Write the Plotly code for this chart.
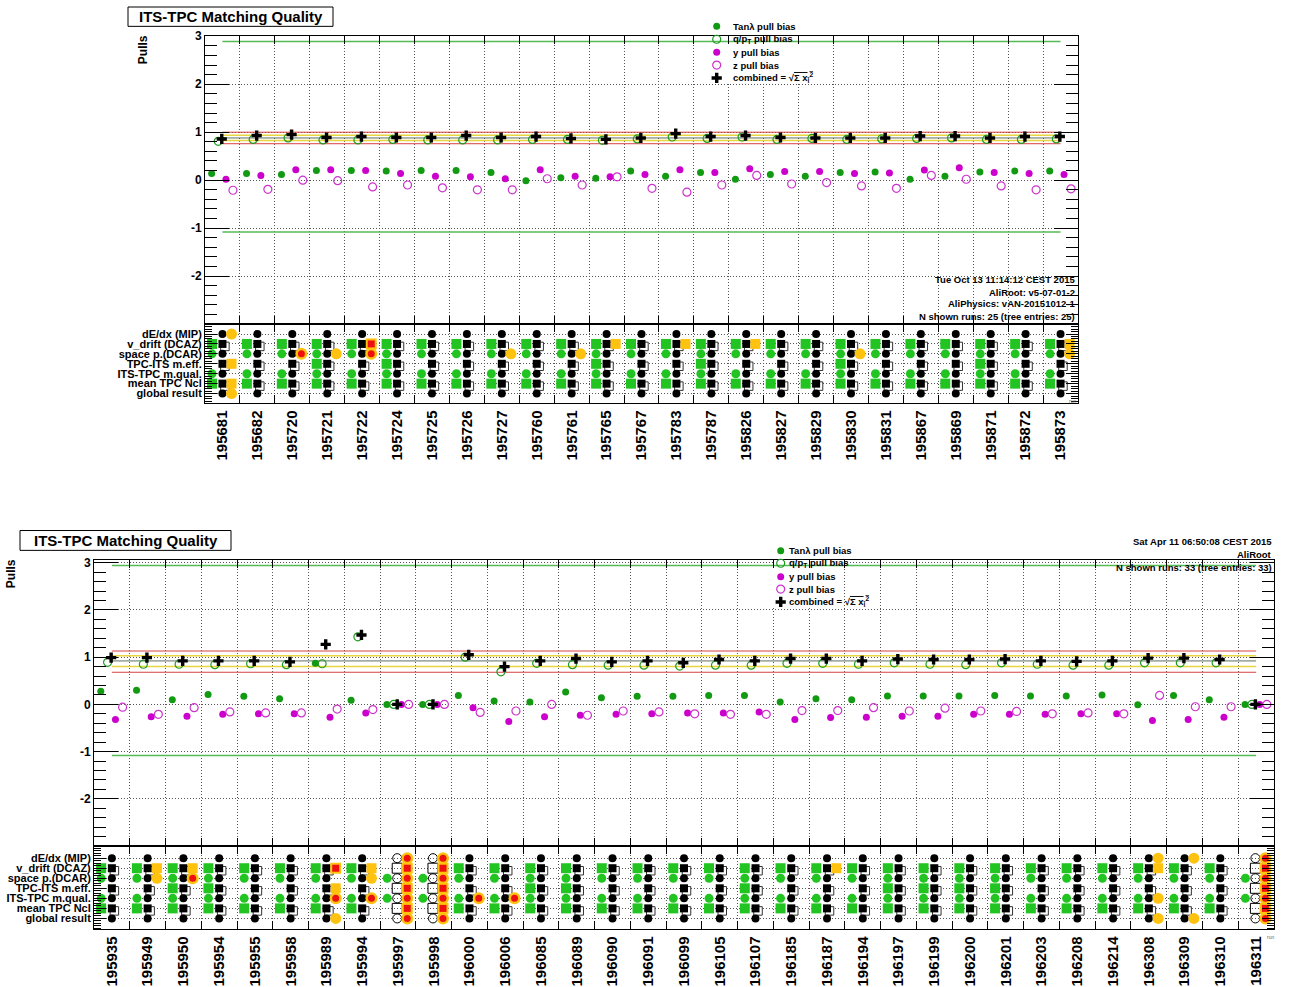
import plotly.graph_objects as go

W, H = 1290, 987
FONT = "Liberation Sans"

# ---------------- data: first period ----------------
top_runs = ["195681", "195682", "195720", "195721", "195722", "195724", "195725", "195726",
            "195727", "195760", "195761", "195765", "195767", "195783", "195787", "195826",
            "195827", "195829", "195830", "195831", "195867", "195869", "195871", "195872",
            "195873"]
top_tan = [0.14, 0.14, 0.12, 0.20, 0.20, 0.19, 0.20, 0.20, 0.16, -0.01, 0.05, 0.04, 0.19,
           0.08, 0.16, 0.02, 0.12, 0.08, 0.16, 0.17, 0.02, 0.08, 0.17, 0.19, 0.19]
top_qpt = [0.81, 0.85, 0.88, 0.84, 0.84, 0.85, 0.84, 0.84, 0.84, 0.85, 0.85, 0.83, 0.86,
           0.90, 0.87, 0.90, 0.85, 0.87, 0.85, 0.86, 0.87, 0.88, 0.85, 0.85, 0.86]
top_ypull = [0.02, 0.10, 0.22, 0.22, 0.20, 0.14, 0.08, 0.07, 0.03, 0.22, 0.08, 0.07, 0.12,
             0.22, 0.16, 0.24, 0.18, 0.18, 0.14, 0.15, 0.21, 0.26, 0.16, 0.14, 0.12]
top_zpull = [-0.21, -0.19, 0.00, -0.01, -0.14, -0.10, -0.16, -0.20, -0.20, 0.03, -0.10, 0.07,
             -0.17, -0.25, -0.10, 0.10, -0.08, -0.05, -0.12, -0.17, 0.10, 0.02, -0.12, -0.20,
             -0.18]
top_comb = [0.86, 0.93, 0.95, 0.89, 0.91, 0.89, 0.89, 0.93, 0.89, 0.91, 0.87, 0.85, 0.88,
            0.97, 0.91, 0.93, 0.89, 0.88, 0.88, 0.88, 0.92, 0.92, 0.88, 0.91, 0.91]
# status per run, rows top->bottom; '.' none, 'g' ok, 'w' warning, 'G' ok+warning,
# 'r' outlier, 'R' ok+outlier
top_status = ["wggwgGw", ".gg.gg.", ".gR.gg.", ".gGggg.", ".RR.gg.", ".ggggg.", ".gg.gg.",
              ".gg.gg.", ".gG.gg.", ".gg.gg.", ".gG.gg.", ".Ggggg.", ".gg.gg.", ".Gg.gg.",
              ".ggggg.", ".Gg.gg.", ".gg.gg.", ".gg.gg.", ".gGggg.", ".gg.gg.", ".gg.gg.",
              ".gg.gg.", ".ggggg.", ".gg.gg.", ".GG.gg."]
top_missing = []
top_limits = [2.89, -1.08]
top_comb_band = [0.76, 0.825, 0.88, 0.935, 1.00]
top_info = ["Tue Oct 13 11:14:12 CEST 2015", "AliRoot: v5-07-01-2",
            "AliPhysics: vAN-20151012-1", "N shown runs: 25 (tree entries: 25)"]

# ---------------- data: second period ----------------
bot_runs = ["195935", "195949", "195950", "195954", "195955", "195958", "195989", "195994",
            "195997", "195998", "196000", "196006", "196085", "196089", "196090", "196091",
            "196099", "196105", "196107", "196185", "196187", "196194", "196197", "196199",
            "196200", "196201", "196203", "196208", "196214", "196308", "196309", "196310",
            "196311"]
bot_tan = [0.28, 0.30, 0.10, 0.21, 0.17, 0.12, 0.87, 0.09, 0.0, 0.0, 0.19, 0.07, 0.05, 0.26,
           0.14, 0.17, 0.17, 0.19, 0.19, 0.05, 0.12, 0.10, 0.18, 0.18, 0.18, 0.19, 0.18, 0.18,
           0.20, -0.01, 0.19, 0.10, 0.0]
bot_qpt = [0.89, 0.85, 0.85, 0.84, 0.86, 0.84, 0.86, 1.43, 0.0, 0.0, 1.00, 0.69, 0.87, 0.84,
           0.83, 0.83, 0.81, 0.83, 0.83, 0.87, 0.87, 0.85, 0.88, 0.85, 0.84, 0.88, 0.85, 0.83,
           0.83, 0.88, 0.88, 0.88, 0.0]
bot_ypull = [-0.32, -0.26, -0.25, -0.21, -0.20, -0.20, -0.27, -0.18, 0.0, 0.0, -0.07, -0.36,
             -0.26, -0.23, -0.21, -0.20, -0.18, -0.18, -0.16, -0.32, -0.28, -0.27, -0.25,
             -0.25, -0.21, -0.21, -0.21, -0.20, -0.20, -0.34, -0.32, -0.27, 0.0]
bot_zpull = [-0.06, -0.21, -0.07, -0.16, -0.18, -0.18, -0.10, -0.11, 0.0, 0.0, -0.17, -0.14,
             0.00, -0.23, -0.14, -0.16, -0.20, -0.21, -0.21, -0.13, -0.13, -0.07, -0.14, -0.08,
             -0.14, -0.15, -0.20, -0.18, -0.20, 0.19, -0.05, -0.05, 0.0]
bot_comb = [0.99, 0.99, 0.92, 0.92, 0.92, 0.90, 1.27, 1.47, 0.0, 0.0, 1.05, 0.80, 0.92, 0.97,
            0.90, 0.92, 0.88, 0.95, 0.92, 0.97, 0.97, 0.92, 0.96, 0.95, 0.95, 0.96, 0.92, 0.91,
            0.92, 0.98, 0.98, 0.95, 0.0]
bot_status = [".gg.gg.", ".GG.gg.", ".GRggg.", ".ggggg.", ".gg.gg.", ".gg.gg.", ".RgwRgw",
              ".GG.Rg.", "rrRrRrr", "rrRrRrr", ".gg.Rg.", ".gg.Rg.", ".ggggg.", ".ggggg.",
              ".gg.gg.", ".gg.gg.", ".gg.gg.", ".gg.gg.", ".ggggg.", ".gg.gg.", ".Gg.gg.",
              ".gg.gg.", ".ggggg.", ".ggggg.", ".ggggg.", ".ggggg.", ".gg.gg.", ".gg.gg.",
              ".gg.gg.", "wGg.Ggw", "wgg.ggw", ".gg.gg.", "rrRrRrr"]
bot_missing = ["195997", "195998", "196311"]
bot_limits = [2.94, -1.08]
bot_comb_band = [0.68, 0.80, 0.92, 1.03, 1.13]
bot_info = ["Sat Apr 11 06:50:08 CEST 2015", "AliRoot", "N shown runs: 33 (tree entries: 33)"]

status_rows = ["dE/dx (MIP)", "v_drift (DCAZ)", "space p.(DCAR)", "TPC-ITS m.eff.",
               "ITS-TPC m.qual.", "mean TPC Ncl", "global result"]

# ---------------- styling ----------------
C_TAN = "#129a12"
C_QPT = "#1f9a1f"
C_Y = "#cc00cc"
C_Z = "#cc33cc"
C_OK = "#22c422"
C_WARN = "#ffc20e"
C_BAD = "#ee1010"
GRID = dict(showgrid=True, gridcolor="#555555", gridwidth=1, griddash="1px,2px")
LBL = dict(family=FONT, color="black", weight="bold")

# vertical page placement: pixel rows of the page are mapped through a small
# top offset and a slightly reduced usable height
Y_OFF, Y_SCALE = 7.5, 0.978

fig = go.Figure()
layout = {}
annotations = []
shapes = []


def ax_names(n):
    return ("x" if n == 1 else f"x{n}", "y" if n == 1 else f"y{n}",
            "xaxis" if n == 1 else f"xaxis{n}", "yaxis" if n == 1 else f"yaxis{n}")


def px_x(p):
    return p / W


def ypix(p):
    return (p - Y_OFF) / Y_SCALE


def px_y(p):
    return min(1.0, max(0.0, 1 - ypix(p) / H))


def add_panel(n_p, n_s, box, runs, tan, qpt, ypull, zpull, comb, status, missing,
              limits, band, yr_p, yr_s):
    x0, x1, yt, ym, yb = box
    N = len(runs)
    xs = list(range(N))
    edges = [i + 0.5 for i in range(N - 1)]
    xp, yp, xk, yk = ax_names(n_p)
    xs_, ys_, xks, yks = ax_names(n_s)

    # reference lines from first to last run
    for val in limits:
        fig.add_trace(go.Scatter(x=[0, N - 1], y=[val, val], mode="lines",
                                 line=dict(color="#55bb55", width=1.5),
                                 xaxis=xp, yaxis=yp, showlegend=False))
    band_cols = ["#d84040", "#e8d640", "#5f6f5f", "#e8d640", "#d84040"]
    band_w = [1, 1.5, 1, 1.5, 1]
    for val, c, w in zip(band, band_cols, band_w):
        fig.add_trace(go.Scatter(x=[0, N - 1], y=[val, val], mode="lines",
                                 line=dict(color=c, width=w),
                                 xaxis=xp, yaxis=yp, showlegend=False))

    series = [
        (tan, -0.31, "circle", C_TAN, 7, 0),
        (qpt, -0.12, "circle-open", C_QPT, 8, 1.2),
        (ypull, 0.10, "circle", C_Y, 7, 0),
        (zpull, 0.30, "circle-open", C_Z, 8, 1.2),
        (comb, -0.02, "cross", "black", 8.5, 0),
    ]
    for vals, off, sym, col, size, lw in series:
        fig.add_trace(go.Scatter(
            x=[i + off for i in xs], y=vals, mode="markers",
            marker=dict(symbol=sym, color=col, size=size,
                        line=dict(color=col, width=lw)),
            xaxis=xp, yaxis=yp, showlegend=False, cliponaxis=False))

    # status matrix
    pts = {k: ([], []) for k in ["okc", "oks", "bc", "bs", "sh", "mc", "ms",
                                  "wc", "ws", "hc", "hs", "rc", "rs"]}

    def put(key, x, y):
        pts[key][0].append(x)
        pts[key][1].append(y)

    for i, (run, code) in enumerate(zip(runs, status)):
        miss = run in missing
        for j, ch in enumerate(code):
            y = 7 - j
            circ = (j % 2 == 0)
            if miss:
                put("mc" if circ else "ms", i - 0.02, y)
            else:
                if not circ:
                    put("sh", i + 0.07, y - 0.25)
                put("bc" if circ else "bs", i, y)
            if ch in "gGR":
                put("okc" if circ else "oks", i - 0.3, y)
            if ch in "wG":
                put("wc" if circ else "ws", i + 0.26, y)
            if ch in "rR":
                put("hc" if circ else "hs", i + 0.26, y)
                put("rc" if circ else "rs", i + 0.26, y)

    styles = [
        ("okc", "circle", C_OK, 9, None),
        ("oks", "square", C_OK, 10, None),
        ("sh", "square", "white", 8.5, "#333333"),
        ("bc", "circle", "black", 8, None),
        ("bs", "square", "black", 8, None),
        ("mc", "circle-open", "black", 9, "black"),
        ("ms", "square-open", "black", 10, "black"),
        ("wc", "circle", C_WARN, 11, None),
        ("ws", "square", C_WARN, 10, None),
        ("hc", "circle", C_WARN, 12, None),
        ("hs", "square", C_WARN, 11, None),
        ("rc", "circle", C_BAD, 7, None),
        ("rs", "square", C_BAD, 7, None),
    ]
    for key, sym, col, size, lc in styles:
        px_, py_ = pts[key]
        if not px_:
            continue
        fig.add_trace(go.Scatter(
            x=px_, y=py_, mode="markers",
            marker=dict(symbol=sym, color=col, size=size,
                        line=dict(color=lc or col, width=1 if lc else 0)),
            xaxis=xs_, yaxis=ys_, showlegend=False, cliponaxis=False))

    dom_x = [px_x(x0), px_x(x1)]
    minor_p = [round(-3 + 0.2 * k, 2) for k in range(31)]
    layout[xk] = dict(domain=dom_x, range=[-0.5, N - 0.5], anchor=yp,
                      tickmode="array", tickvals=edges, showticklabels=False,
                      ticks="inside", ticklen=8, tickcolor="black", mirror="allticks",
                      showline=True, linecolor="black", linewidth=1, zeroline=False, **GRID)
    layout[yk] = dict(domain=[px_y(ym), px_y(yt)], range=yr_p, anchor=xp,
                      tickmode="array", tickvals=[-2, -1, 0, 1, 2, 3],
                      ticktext=["-2", "-1", "0", "1", "2", "3"],
                      ticks="inside", ticklen=24, tickcolor="black", mirror="allticks",
                      showline=True, linecolor="black", linewidth=1, zeroline=False,
                      tickfont=dict(size=12, **LBL),
                      minor=dict(tickmode="array", tickvals=minor_p, ticks="inside",
                                 ticklen=12, tickcolor="black", showgrid=False),
                      **GRID)
    minor_s = [round(0.25 * k, 2) for k in range(int(yr_s[1] * 4) + 1)]
    layout[xks] = dict(domain=dom_x, range=[-0.5, N - 0.5], anchor=ys_,
                       tickmode="array", tickvals=xs, ticktext=runs, ticks="",
                       tickangle=-90, tickfont=dict(size=15, **LBL), showgrid=False,
                       showline=True, linecolor="black", linewidth=1, mirror="allticks",
                       zeroline=False,
                       minor=dict(tickmode="array", tickvals=edges, ticks="inside",
                                  ticklen=8, tickcolor="black", showgrid=True,
                                  gridcolor="#555555", griddash="1px,2px", gridwidth=1))
    layout[yks] = dict(domain=[px_y(yb), px_y(ym)], range=yr_s, anchor=xs_,
                       tickmode="array", tickvals=[7, 6, 5, 4, 3, 2, 1], ticktext=status_rows,
                       ticks="inside", ticklen=12, tickcolor="black", mirror="allticks",
                       showline=True, linecolor="black", linewidth=1, zeroline=False,
                       tickfont=dict(size=11, **LBL),
                       minor=dict(tickmode="array", tickvals=minor_s, ticks="inside",
                                  ticklen=7, tickcolor="black", showgrid=False),
                       **GRID)

    def to_data(pxx, pyy):
        dx = (pxx - x0) / (x1 - x0) * N - 0.5
        dy = yr_p[1] - (pyy - yt) / (ym - yt) * (yr_p[1] - yr_p[0])
        return dx, dy
    return to_data


to_top = add_panel(1, 2, (205, 1078, 37, 327, 407), top_runs, top_tan, top_qpt, top_ypull,
                   top_zpull, top_comb, top_status, top_missing, top_limits, top_comb_band,
                   [-3, 3], [0, 8])
to_bot = add_panel(3, 4, (94, 1274, 565, 853, 937), bot_runs, bot_tan, bot_qpt, bot_ypull,
                   bot_zpull, bot_comb, bot_status, bot_missing, bot_limits, bot_comb_band,
                   [-3, 3.05], [-0.1, 8.2])

# overlay axes in pixel units for the legend glyphs
layout["xaxis5"] = dict(domain=[0, 1], range=[0, W], visible=False, fixedrange=True,
                        anchor="y5")
layout["yaxis5"] = dict(domain=[0, 1], range=[H, 0], visible=False, fixedrange=True,
                        anchor="x5")

legend_text = ["Tanλ pull bias", "q/p<sub>T</sub> pull bias", "y pull bias", "z pull bias",
               "combined = √<span style='text-decoration:overline'>Σ x<sub>i</sub>"
               "<sup>2</sup></span>"]
legend_glyph = [("circle", C_TAN, 7, 0), ("circle-open", C_QPT, 8, 1.2), ("circle", C_Y, 7, 0),
                ("circle-open", C_Z, 8, 1.2), ("cross", "black", 8.5, 0)]


def add_legend(to_data, xa, ya, box, gx, tx, rows):
    bx0, by0, bx1, by1 = box
    dx0, dy0 = to_data(bx0, by0)
    dx1, dy1 = to_data(bx1, by1)
    shapes.append(dict(type="rect", xref=xa, yref=ya, x0=dx0, x1=dx1, y0=dy1, y1=dy0,
                       fillcolor="white", line=dict(width=0), layer="between"))
    for (sym, col, size, lw), ry in zip(legend_glyph, rows):
        fig.add_trace(go.Scatter(x=[gx], y=[ypix(ry)], mode="markers",
                                 marker=dict(symbol=sym, color=col, size=size,
                                             line=dict(color=col, width=lw)),
                                 xaxis="x5", yaxis="y5", showlegend=False))
    for t, ry in zip(legend_text, rows):
        annotations.append(dict(text=t, x=px_x(tx), y=px_y(ry), xref="paper", yref="paper",
                                xanchor="left", yanchor="middle", showarrow=False,
                                font=dict(size=9.5, **LBL)))


add_legend(to_top, "x", "y", (700, 19, 832, 84), 716.7, 731, [27, 40, 53, 66, 79])
add_legend(to_bot, "x3", "y3", (773, 547, 843, 613), 780.7, 787,
           [555.5, 568, 581.5, 594, 607])

# info lines
for t, ry in zip(top_info, [281.7, 295, 306.7, 319.3]):
    annotations.append(dict(text=t, x=px_x(1077), y=px_y(ry), xref="paper", yref="paper",
                            xanchor="right", yanchor="middle", showarrow=False,
                            font=dict(size=9.5, **LBL)))
for t, ry in zip(bot_info, [545.7, 559, 572.3]):
    annotations.append(dict(text=t, x=px_x(1274), y=px_y(ry), xref="paper", yref="paper",
                            xanchor="right", yanchor="middle", showarrow=False,
                            font=dict(size=9.5, **LBL)))

# titles
for (bx0, by0, bx1, by1) in [(128, 6, 333, 27), (20, 535, 231, 555)]:
    shapes.append(dict(type="rect", xref="paper", yref="paper", x0=px_x(bx0), x1=px_x(bx1),
                       y0=px_y(by1), y1=px_y(by0), line=dict(color="black", width=1),
                       fillcolor="white", layer="above"))
    annotations.append(dict(text="ITS-TPC Matching Quality", x=px_x((bx0 + bx1) / 2),
                            y=px_y((by0 + by1) / 2 + 0.5), xref="paper", yref="paper",
                            xanchor="center", yanchor="middle", showarrow=False,
                            font=dict(size=15, **LBL)))

for (cx, cy) in [(143, 51), (11, 579)]:
    annotations.append(dict(text="Pulls", x=px_x(cx), y=px_y(cy), xref="paper", yref="paper",
                            xanchor="center", yanchor="middle", textangle=-90,
                            showarrow=False, font=dict(size=12, **LBL)))

for (cx, cy) in [(1072, 404), (1270, 945)]:
    annotations.append(dict(text="run", x=px_x(cx), y=px_y(cy), xref="paper", yref="paper",
                            xanchor="center", yanchor="middle", showarrow=False,
                            font=dict(size=5, family=FONT, color="#666666")))

fig.update_layout(
    width=W, height=H, margin=dict(l=0, r=0, t=0, b=0, pad=0),
    paper_bgcolor="white", plot_bgcolor="rgba(0,0,0,0)", showlegend=False,
    font=dict(family=FONT, color="black"),
    annotations=annotations, shapes=shapes, **layout)

fig.write_html("out.html", post_script="document.body.style.margin='0px';")
